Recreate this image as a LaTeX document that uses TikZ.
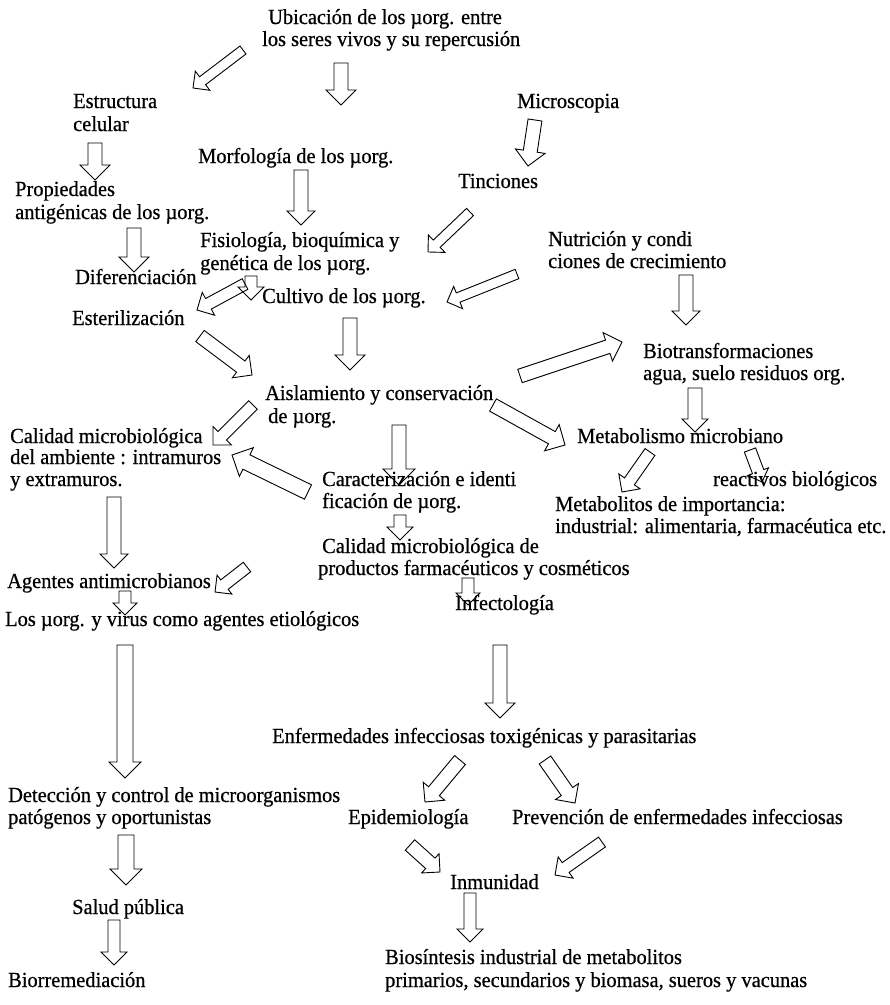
\documentclass[tikz,border=0pt]{standalone}
\usepackage{fontspec}
\setmainfont[FakeStretch=0.95,FakeBold=0.6]{Liberation Serif}
\tikzset{
  txt/.style={anchor=base west, inner sep=0pt, font=\fontsize{21.5}{22}\selectfont},
  arr/.style={draw=black, line width=0.9pt, line join=miter}
}
% block arrow: tail x, tail y, tip x, tip y, shaft half width, head half width (= head length)
\newcommand{\blockarrow}[6]{%
  \pgfmathsetmacro\bdx{#3-#1}%
  \pgfmathsetmacro\bdy{#4-#2}%
  \pgfmathsetmacro\bang{atan2(-\bdy,\bdx)}%
  \pgfmathsetmacro\blen{veclen(\bdx,\bdy)}%
  \pgfmathsetmacro\bneck{\blen-#6}%
  \begin{scope}[shift={(#1,#2)},rotate=\bang]
    \draw[arr] (0,#5) -- (\bneck,#5) -- (\bneck,#6) -- (\blen,0) -- (\bneck,-#6) -- (\bneck,-#5) -- (0,-#5) -- cycle;
  \end{scope}}
\begin{document}
\begin{tikzpicture}[x=1pt,y=-1pt]
\useasboundingbox[fill=white] (0,0) rectangle (890,1005);
% texts
\node[txt] (ubic1) at (268,24) {Ubicación de los µorg. entre};
\node[txt] (ubic2) at (262,46) {los seres vivos y su repercusión};
\node[txt] (estr1) at (73,108) {Estructura};
\node[txt] (estr2) at (73,131) {celular};
\node[txt] (micro) at (517,108) {Microscopia};
\node[txt] (morf) at (198,163) {Morfología de los µorg.};
\node[txt] (tinc) at (458,188) {Tinciones};
\node[txt] (prop1) at (15,196) {Propiedades};
\node[txt] (prop2) at (15,219) {antigénicas de los µorg.};
\node[txt] (fis1) at (200,247) {Fisiología, bioquímica y};
\node[txt] (fis2) at (200,270) {genética de los µorg.};
\node[txt] (nut1) at (548,246) {Nutrición y condi};
\node[txt] (nut2) at (548,268) {ciones de crecimiento};
\node[txt] (dif) at (75,284) {Diferenciación};
\node[txt] (cult) at (262,303) {Cultivo de los µorg.};
\node[txt] (ester) at (72,325) {Esterilización};
\node[txt] (bio1) at (643,358) {Biotransformaciones};
\node[txt] (bio2) at (643,380) {agua, suelo residuos org.};
\node[txt] (ais1) at (265,400) {Aislamiento y conservación};
\node[txt] (ais2) at (268,423) {de µorg.};
\node[txt] (cal1) at (10,443) {Calidad microbiológica};
\node[txt] (cal2) at (10,464) {del ambiente : intramuros};
\node[txt] (cal3) at (10,486) {y extramuros.};
\node[txt] (metab) at (577,443) {Metabolismo microbiano};
\node[txt] (car1) at (322,486) {Caracterización e identi};
\node[txt] (car2) at (322,508) {ficación de µorg.};
\node[txt] (react) at (713,486) {reactivos biológicos};
\node[txt] (mets1) at (555,511) {Metabolitos de importancia:};
\node[txt] (mets2) at (555,533) {industrial: alimentaria, farmacéutica etc.};
\node[txt] (cp1) at (322,553) {Calidad microbiológica de};
\node[txt] (cp2) at (318,575) {productos farmacéuticos y cosméticos};
\node[txt] (agen) at (7,588) {Agentes antimicrobianos};
\node[txt] (infec) at (455,610) {Infectología};
\node[txt] (los) at (5,626) {Los µorg. y virus como agentes etiológicos};
\node[txt] (enf) at (272,743) {Enfermedades infecciosas toxigénicas y parasitarias};
\node[txt] (det1) at (8,802) {Detección y control de microorganismos};
\node[txt] (det2) at (8,824) {patógenos y oportunistas};
\node[txt] (epi) at (348,824) {Epidemiología};
\node[txt] (prev) at (512,824) {Prevención de enfermedades infecciosas};
\node[txt] (inm) at (450,889) {Inmunidad};
\node[txt] (salud) at (72,914) {Salud pública};
\node[txt] (bios1) at (385,964) {Biosíntesis industrial de metabolitos};
\node[txt] (bios2) at (385,987) {primarios, secundarios y biomasa, sueros y vacunas};
\node[txt] (biorr) at (8,987) {Biorremediación};
% arrows
\blockarrow{243}{50}{193}{88}{5}{12}
\blockarrow{341}{63}{341}{105}{7}{15}
\blockarrow{95}{143}{95}{180}{7}{15}
\blockarrow{535}{120}{528}{166}{7}{15}
\blockarrow{301}{170}{301}{225}{7}{14}
\blockarrow{470}{212}{428}{252}{5}{12}
\blockarrow{134}{228}{134}{272}{7}{15}
\blockarrow{251}{276}{251}{300}{6}{13}
\blockarrow{517}{274}{447}{302}{5}{12}
\blockarrow{686}{275}{686}{325}{7}{14}
\blockarrow{245}{284}{197}{310}{6}{13}
\blockarrow{350}{318}{350}{370}{7}{15}
\blockarrow{200}{336}{252}{375}{7}{14}
\blockarrow{520}{376}{622}{342}{7}{15}
\blockarrow{695}{388}{695}{432}{7}{13}
\blockarrow{493}{405}{565}{445}{7}{15}
\blockarrow{253}{405}{213}{445}{6}{13}
\blockarrow{399}{425}{399}{485}{7}{16}
\blockarrow{650}{452}{622}{492}{6}{13}
\blockarrow{750}{450}{762}{482}{6}{11}
\blockarrow{308}{492}{232}{455}{8}{16}
\blockarrow{114}{497}{114}{568}{7}{14}
\blockarrow{400}{515}{400}{540}{6}{13}
\blockarrow{247}{567}{215}{592}{6}{12}
\blockarrow{468}{578}{468}{605}{6}{12}
\blockarrow{125}{591}{125}{615}{6}{12}
\blockarrow{500}{645}{500}{718}{7}{15}
\blockarrow{125}{645}{125}{778}{8}{16}
\blockarrow{460}{760}{425}{802}{7}{14}
\blockarrow{545}{760}{575}{803}{7}{14}
\blockarrow{126}{835}{126}{885}{8}{16}
\blockarrow{410}{845}{440}{872}{7}{13}
\blockarrow{602}{842}{555}{875}{6}{13}
\blockarrow{470}{893}{470}{942}{6}{13}
\blockarrow{114}{920}{114}{965}{6}{13}
\end{tikzpicture}
\end{document}
